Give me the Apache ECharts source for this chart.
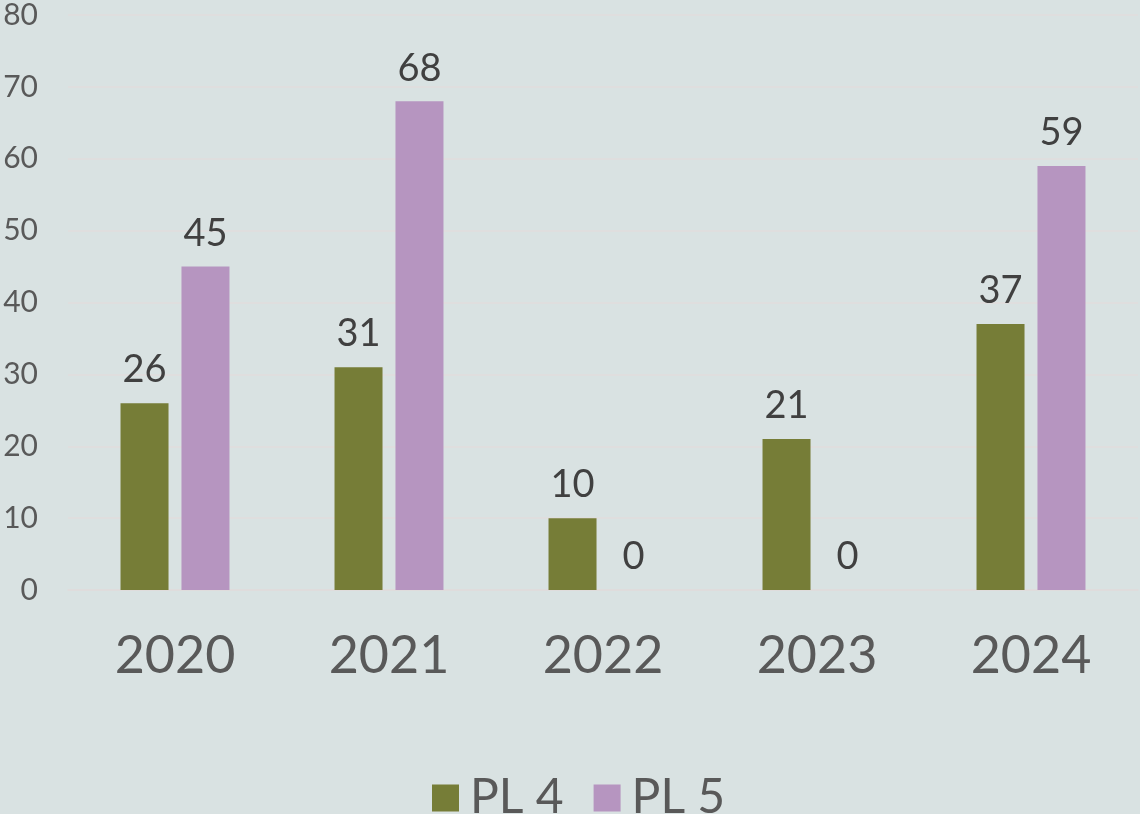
<!DOCTYPE html>
<html>
<head>
<meta charset="utf-8">
<script src="https://cdn.jsdelivr.net/npm/echarts@6/dist/echarts.min.js"></script>
<style>
html,body{margin:0;padding:0;background:#d9e2e2;}
#chart{width:1140px;height:814px;}
</style>
</head>
<body>
<div id="chart"></div>
<script>
const categories = ['2020', '2021', '2022', '2023', '2024'];
const pl4 = [26, 31, 10, 21, 37];
const pl5 = [45, 68, 0, 0, 59];
const seriesNames = ['PL 4', 'PL 5'];

const chart = echarts.init(document.getElementById('chart'));
const FONT = 'Lato';
chart.setOption({
  backgroundColor: '#d9e2e2',
  animation: false,
  grid: { left: 68, right: 2, top: 15, bottom: 224, containLabel: false },
  legend: {
    data: seriesNames,
    left: 432,
    top: 774,
    padding: 0,
    icon: 'rect',
    itemWidth: 27,
    itemHeight: 27,
    itemGap: 30,
    textStyle: { fontFamily: FONT, fontSize: 48, color: '#595959', lineHeight: 48, padding: [0, 0, 0, 6] }
  },
  xAxis: {
    type: 'category',
    data: categories,
    axisLine: { show: true, lineStyle: { color: '#e0dcdc', width: 1.5 } },
    axisTick: { show: false },
    axisLabel: { fontFamily: FONT, fontSize: 52, color: '#595959', margin: 40, lineHeight: 52 }
  },
  yAxis: {
    type: 'value',
    min: 0, max: 80, interval: 10,
    axisLine: { show: false },
    axisTick: { show: false },
    splitLine: { lineStyle: { color: '#e0dcdc', width: 1.5 } },
    axisLabel: { fontFamily: FONT, fontSize: 30, color: '#595959', margin: 30 }
  },
  series: [
    {
      name: seriesNames[0], type: 'bar', data: pl4, barWidth: 48, barGap: '27%',
      itemStyle: { color: '#767d37' },
      label: { show: true, position: 'top', distance: 14, fontFamily: FONT, fontSize: 38, color: '#404040' }
    },
    {
      name: seriesNames[1], type: 'bar', data: pl5, barWidth: 48,
      itemStyle: { color: '#b695c0' },
      label: { show: true, position: 'top', distance: 14, fontFamily: FONT, fontSize: 38, color: '#404040' }
    }
  ]
});
</script>
</body>
</html>
